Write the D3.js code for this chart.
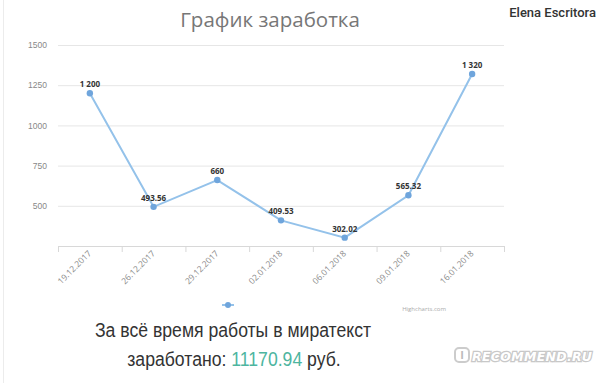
<!DOCTYPE html>
<html><head><meta charset="utf-8">
<script src="https://cdn.jsdelivr.net/npm/d3@7"></script>
<style>body{margin:0;background:#fff;}svg{display:block;font-family:"Open Sans",Arial,sans-serif;}</style>
</head><body><svg id="c" width="600" height="383"></svg>
<script>
const categories = ["19.12.2017","26.12.2017","29.12.2017","02.01.2018","06.01.2018","09.01.2018","16.01.2018"];
const values = [1200, 493.56, 660, 409.53, 302.02, 565.32, 1320];
const valueLabels = ["1 200","493.56","660","409.53","302.02","565.32","1 320"];
const yTicks = [500, 750, 1000, 1250, 1500];

(function(){
const svg = d3.select("#c");
const pl = 58, pr = 504, pt = 45, pb = 246;
const x = d3.scaleBand().domain(categories).range([pl, pr]);
const y = d3.scaleLinear().domain([250, 1500]).range([pb, pt]);

// left border
svg.append("line").attr("x1",3.5).attr("x2",3.5).attr("y1",0).attr("y2",383).attr("stroke","#ececec");

// grid
const yAxis = d3.axisLeft(y).tickValues(yTicks).tickSize(-(pr-pl)).tickPadding(12).tickFormat(d3.format("d"));
const gy = svg.append("g").attr("transform",`translate(${pl},0)`).call(yAxis);
gy.select(".domain").remove();
gy.selectAll(".tick line").attr("stroke","#e6e6e6");
gy.selectAll(".tick text").attr("fill","#888").attr("font-size","8.5px").attr("text-anchor","end").attr("x",-11);

// x axis
svg.append("line").attr("x1",pl).attr("x2",pr).attr("y1",pb+0.5).attr("y2",pb+0.5).attr("stroke","#d8d8d8");
const bounds = categories.map(c=>x(c)).concat([pr]);
svg.selectAll(".xt").data(bounds).enter().append("line")
  .attr("x1",d=>d+0.5).attr("x2",d=>d+0.5).attr("y1",pb).attr("y2",pb+6).attr("stroke","#d8d8d8");
svg.selectAll(".xl").data(categories).enter().append("text")
  .attr("transform",d=>`translate(${x(d)+x.bandwidth()/2+2},${pb+8}) rotate(-45)`)
  .attr("text-anchor","end").attr("font-size","8.5px").attr("fill","#888").text(d=>d);

// line
const pts = categories.map((c,i)=>({c, v:values[i], l:valueLabels[i]}));
const line = d3.line().x(d=>x(d.c)+x.bandwidth()/2).y(d=>y(d.v));
svg.append("path").datum(pts).attr("d",line).attr("fill","none").attr("stroke","#94c2ea").attr("stroke-width",2);
svg.selectAll(".pt").data(pts).enter().append("circle")
  .attr("cx",d=>x(d.c)+x.bandwidth()/2).attr("cy",d=>y(d.v)).attr("r",3.2).attr("fill","#6fa5dc");
svg.selectAll(".dl").data(pts).enter().append("text")
  .attr("x",d=>x(d.c)+x.bandwidth()/2).attr("y",d=>y(d.v)-6)
  .attr("text-anchor","middle").attr("font-size","8px").attr("font-weight","bold").attr("fill","#333").text(d=>d.l);

// title
svg.append("text").attr("x",270).attr("y",27).attr("text-anchor","middle").attr("font-size","20.5px").attr("fill","#777").text("График заработка");
svg.append("text").attr("x",596).attr("y",17).attr("text-anchor","end").attr("font-family","Roboto").attr("font-weight","500").attr("font-size","13px").attr("fill","#333").text("Elena Escritora");

// legend marker
svg.append("line").attr("x1",222).attr("x2",234).attr("y1",305).attr("y2",305).attr("stroke","#94c2ea").attr("stroke-width",2);
svg.append("circle").attr("cx",228).attr("cy",305).attr("r",3).attr("fill","#6fa5dc");
svg.append("text").attr("x",446).attr("y",311).attr("text-anchor","end").attr("font-size","6px").attr("fill","#aaa").text("Highcharts.com");

// bottom text (horizontally condensed like the reference)
const sx = 0.84;
const bt = svg.append("g").attr("transform",`scale(${sx},1)`)
  .attr("font-family","Arial, Liberation Sans, sans-serif").attr("font-size","21px").attr("fill","#333").attr("text-anchor","middle");
bt.append("text").attr("x",233/sx).attr("y",337).text("За всё время работы в миратекст");
const t2 = bt.append("text").attr("x",234/sx).attr("y",366);
t2.append("tspan").text("заработано: ");
t2.append("tspan").attr("fill","#4db5a0").text("11170.94");
t2.append("tspan").text(" руб.");

// watermark
const wm = svg.append("g");
wm.append("rect").attr("x",455).attr("y",348).attr("width",14).attr("height",14).attr("rx",4).attr("fill","#fff").attr("stroke","#ccc").attr("stroke-width",2);
wm.append("text").attr("x",462).attr("y",359).attr("text-anchor","middle").attr("font-size","11px").attr("font-weight","bold").attr("fill","#bbb").text("I");
wm.append("text").attr("x",472).attr("y",361).attr("font-family","DejaVu Sans").attr("font-style","italic").attr("font-weight","bold").attr("font-size","12.5px")
  .attr("fill","#fff").attr("stroke","#c8c8c8").attr("stroke-width",2.5).attr("paint-order","stroke").attr("textLength",120).text("RECOMMEND.RU");
})();
</script></body></html>
